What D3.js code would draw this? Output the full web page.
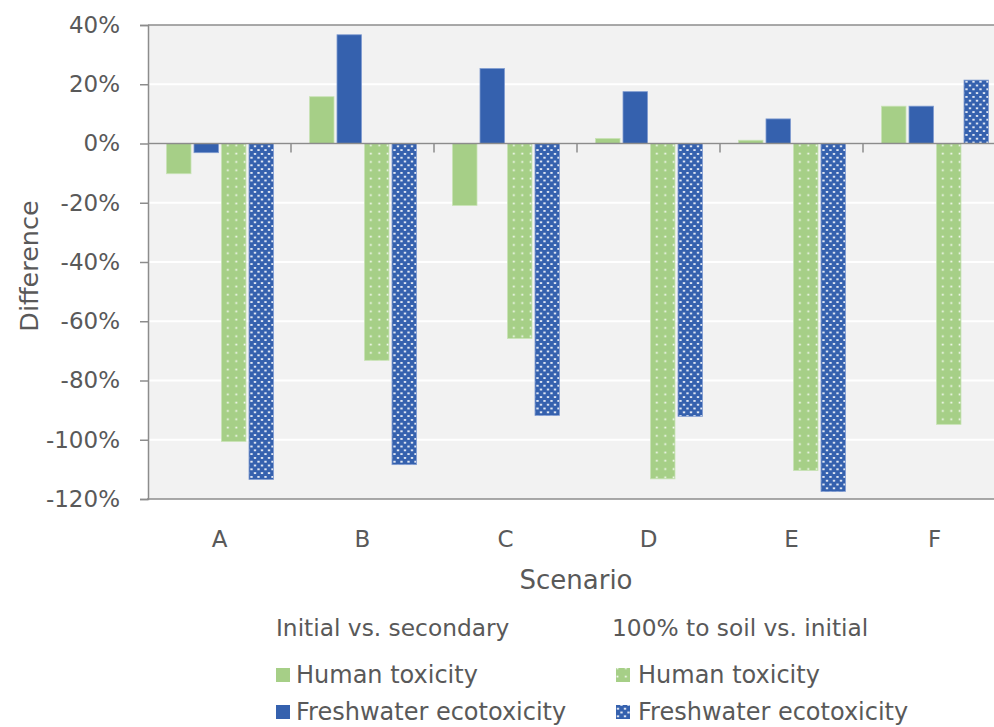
<!DOCTYPE html>
<html>
<head>
<meta charset="utf-8">
<script src="https://cdn.jsdelivr.net/npm/d3@7"></script>
<style>
  html, body { margin: 0; padding: 0; background: #ffffff; overflow: hidden; }
  svg { display: block; font-family: "DejaVu Sans", "Open Sans", sans-serif; }
</style>
</head>
<body>
<svg id="chart" width="994" height="727"></svg>
<script>
// ---- data ----
const categories = ["A", "B", "C", "D", "E", "F"];
const seriesNames = ["Human toxicity (initial vs. secondary)", "Freshwater ecotoxicity (initial vs. secondary)",
                     "Human toxicity (100% to soil vs. initial)", "Freshwater ecotoxicity (100% to soil vs. initial)"];
const humanInitial      = [-0.102, 0.158, -0.209, 0.017, 0.011, 0.126];
const freshInitial      = [-0.031, 0.367, 0.253, 0.175, 0.083, 0.126];
const humanSoil         = [-1.006, -0.732, -0.658, -1.132, -1.104, -0.948];
const freshSoil         = [-1.134, -1.084, -0.918, -0.921, -1.175, 0.214];
const yTicks = [0.4, 0.2, 0, -0.2, -0.4, -0.6, -0.8, -1.0, -1.2];
const groupTitles = ["Initial vs. secondary", "100% to soil vs. initial"];
const legendLabels = ["Human toxicity", "Freshwater ecotoxicity"];

const allSeries = [humanInitial, freshInitial, humanSoil, freshSoil];

// ---- styles ----
const green = "#a6cf87";
const blue = "#3561ae";
const textColor = "#595959";
const axisColor = "#8c8c8c";

const svg = d3.select("#chart");
const defs = svg.append("defs");

// dotted green pattern
const pg = defs.append("pattern").attr("id", "dotGreen").attr("patternUnits", "userSpaceOnUse")
  .attr("width", 8.4).attr("height", 8.3);
pg.append("rect").attr("width", 8.4).attr("height", 8.3).attr("fill", green);
pg.append("rect").attr("x", 3.4).attr("y", 3.4).attr("width", 1.7).attr("height", 1.7).attr("fill", "#ffffff").attr("opacity", 0.95);

// dotted blue pattern
const pb = defs.append("pattern").attr("id", "dotBlue").attr("patternUnits", "userSpaceOnUse")
  .attr("width", 7).attr("height", 7.6);
pb.append("rect").attr("width", 7).attr("height", 7.6).attr("fill", blue);
pb.append("rect").attr("x", 0.8).attr("y", 0.9).attr("width", 2.4).attr("height", 2).attr("rx", 0.6).attr("fill", "#ffffff").attr("opacity", 0.85);
pb.append("rect").attr("x", 4.3).attr("y", 4.7).attr("width", 2.4).attr("height", 2).attr("rx", 0.6).attr("fill", "#ffffff").attr("opacity", 0.85);

const fills = [green, blue, "url(#dotGreen)", "url(#dotBlue)"];

// ---- layout ----
const plotLeft = 148, plotTop = 25, plotBottom = 499;
const groupW = 143;
const plotRight = plotLeft + groupW * categories.length;

const x0 = d3.scaleBand().domain(categories).range([plotLeft, plotRight]).padding(0);
const x1 = d3.scaleBand().domain(d3.range(4)).range([18.5, 125.5]).paddingInner(0.109).paddingOuter(0);
const y = d3.scaleLinear().domain([-1.2, 0.4]).range([plotBottom, plotTop]);

// plot background
svg.append("rect").attr("x", plotLeft).attr("y", plotTop).attr("width", plotRight - plotLeft).attr("height", plotBottom - plotTop)
  .attr("fill", "#f2f2f2");

// gridlines
svg.append("g").selectAll("line").data(yTicks.filter(t => t !== 0.4 && t !== -1.2)).join("line")
  .attr("x1", plotLeft).attr("x2", plotRight)
  .attr("y1", d => y(d)).attr("y2", d => y(d))
  .attr("stroke", "#ffffff").attr("stroke-width", 2);

// bars
const groups = svg.append("g").selectAll("g").data(categories).join("g")
  .attr("transform", d => `translate(${x0(d)},0)`);
groups.selectAll("rect").data((c, ci) => allSeries.map((s, si) => ({ si, v: s[ci] }))).join("rect")
  .attr("x", d => x1(d.si))
  .attr("width", x1.bandwidth())
  .attr("y", d => y(Math.max(0, d.v)))
  .attr("height", d => Math.abs(y(d.v) - y(0)))
  .attr("fill", d => fills[d.si])
  .attr("stroke", d => d.si % 2 === 0 ? "#c9e3b6" : "#7f9bd0")
  .attr("stroke-width", 0.8);

// borders
svg.append("line").attr("x1", plotLeft).attr("x2", plotRight).attr("y1", plotTop).attr("y2", plotTop)
  .attr("stroke", axisColor).attr("stroke-width", 1.5);
svg.append("line").attr("x1", plotLeft - 1).attr("x2", plotRight).attr("y1", plotBottom).attr("y2", plotBottom)
  .attr("stroke", axisColor).attr("stroke-width", 1.5);

// y axis
const yAxis = d3.axisLeft(y).tickValues(yTicks).tickFormat(d3.format(".0%")).tickSize(8).tickPadding(20);
const yg = svg.append("g").attr("transform", `translate(${plotLeft},0)`).call(yAxis);
yg.select(".domain").attr("stroke", axisColor).attr("stroke-width", 1.5);
yg.selectAll(".tick line").attr("stroke", axisColor).attr("stroke-width", 1.5);
yg.selectAll(".tick text").attr("fill", textColor).style("font-size", "23px")
  .style("font-family", "'DejaVu Sans', sans-serif")
  .text(d => d3.format(".0%")(d).replace("−", "-"));

// zero line with category ticks
svg.append("line").attr("x1", plotLeft).attr("x2", plotRight).attr("y1", y(0)).attr("y2", y(0))
  .attr("stroke", axisColor).attr("stroke-width", 1.5);
svg.append("g").selectAll("line").data(categories.slice(1)).join("line")
  .attr("x1", d => x0(d)).attr("x2", d => x0(d))
  .attr("y1", y(0)).attr("y2", y(0) + 9)
  .attr("stroke", axisColor).attr("stroke-width", 1.5);

// category labels
svg.append("g").selectAll("text").data(categories).join("text")
  .attr("x", d => x0(d) + x0.bandwidth() / 2)
  .attr("y", 547)
  .attr("text-anchor", "middle")
  .attr("fill", textColor)
  .style("font-size", "23px")
  .text(d => d);

// axis titles
svg.append("text").attr("x", 576).attr("y", 589).attr("text-anchor", "middle")
  .attr("fill", textColor).style("font-size", "26px").text("Scenario");
svg.append("text").attr("transform", "translate(38,266) rotate(-90)").attr("text-anchor", "middle")
  .attr("fill", textColor).style("font-size", "25.5px").text("Difference");

// legend
const legendCols = [
  { hx: 276, sx: 276, tx: 296, fills: [green, blue] },
  { hx: 612, sx: 616, tx: 638, fills: ["url(#dotGreen)", "url(#dotBlue)"] }
];
legendCols.forEach((col, ci) => {
  svg.append("text").attr("x", col.hx).attr("y", 636).attr("fill", textColor)
    .style("font-size", "23.3px").text(groupTitles[ci]);
  legendLabels.forEach((lab, li) => {
    const by = 683 + li * 37;
    svg.append("rect").attr("x", col.sx).attr("y", by - 15).attr("width", 14).attr("height", 14)
      .attr("fill", col.fills[li]);
    svg.append("text").attr("x", col.tx).attr("y", by).attr("fill", textColor)
      .style("font-size", "24px").text(lab);
  });
});
</script>
</body>
</html>
